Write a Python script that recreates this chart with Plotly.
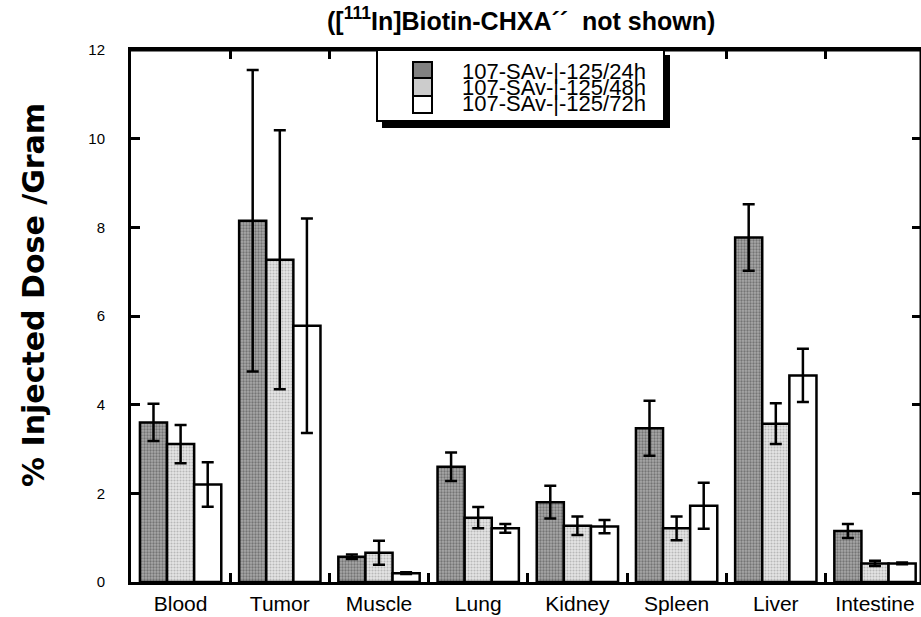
import plotly.graph_objects as go

organs = ["Blood", "Tumor", "Muscle", "Lung", "Kidney", "Spleen", "Liver", "Intestine"]
series_names = ["107-SAv-|-125/24h", "107-SAv-|-125/48h", "107-SAv-|-125/72h"]

val_24h = [3.60, 8.15, 0.57, 2.60, 1.80, 3.47, 7.77, 1.15]
err_24h = [0.42, 3.40, 0.05, 0.32, 0.37, 0.62, 0.75, 0.16]
val_48h = [3.11, 7.27, 0.66, 1.45, 1.27, 1.21, 3.57, 0.42]
err_48h = [0.43, 2.92, 0.27, 0.24, 0.21, 0.27, 0.46, 0.06]
val_72h = [2.20, 5.78, 0.20, 1.21, 1.25, 1.72, 4.66, 0.42]
err_72h = [0.50, 2.42, 0.02, 0.10, 0.15, 0.52, 0.60, 0.02]

y_ticks = [0, 2, 4, 6, 8, 10, 12]

W, H = 921, 617
L, R, T, B = 131, 0, 50, 35
PW, PH = W - L - R, H - T - B

def px(x):
    return (x - L) / PW

def py(y):
    return (H - B - y) / PH

styles = [
    dict(pattern=dict(shape=".", bgcolor="#a8a8a8", fgcolor="#404040", size=3, solidity=0.45)),
    dict(pattern=dict(shape=".", bgcolor="#e6e6e6", fgcolor="#8a8a8a", size=3, solidity=0.4)),
    dict(color="white"),
]

fig = go.Figure()
for name, vals, errs, st in zip(series_names, [val_24h, val_48h, val_72h],
                                [err_24h, err_48h, err_72h], styles):
    marker = dict(line=dict(color="black", width=2.5))
    marker.update(st)
    fig.add_trace(go.Bar(
        x=organs, y=vals, name=name, marker=marker, showlegend=False,
        error_y=dict(type="data", array=errs, visible=True, color="black",
                     thickness=2.5, width=6),
    ))

fig.update_layout(
    width=W, height=H,
    margin=dict(l=L, r=R, t=T, b=B, autoexpand=False),
    paper_bgcolor="white", plot_bgcolor="white",
    barmode="group", bargap=0.18, bargroupgap=0,
    font=dict(family="Liberation Sans, Arial, sans-serif", color="black"),
)
fig.update_xaxes(
    range=[-0.5, -0.5 + PW / 99.2], automargin=False,
    showline=True, linecolor="black", linewidth=3, mirror="ticks",
    ticks="inside", tickson="boundaries", ticklen=9, tickwidth=2.5, tickcolor="black",
    tickfont=dict(size=21, family="Liberation Sans, Arial, sans-serif"),
    ticklabelstandoff=1, showgrid=False, zeroline=False,
)
fig.update_yaxes(
    range=[0, 12], tickvals=y_ticks, ticktext=[str(v) for v in y_ticks], automargin=False,
    showline=True, linecolor="black", linewidth=3, mirror="ticks",
    ticks="inside", ticklen=9, tickwidth=2.5, tickcolor="black",
    tickfont=dict(size=15, family="Liberation Sans, Arial, sans-serif"),
    ticklabelstandoff=20, showgrid=False, zeroline=False,
)

# Plot frame, then legend box with drop shadow
shapes = [
    dict(type="line", xref="paper", yref="paper", x0=0, x1=1, y0=1, y1=1,
         line=dict(color="black", width=3), layer="above"),
    dict(type="line", xref="paper", yref="paper", x0=1, x1=1, y0=0, y1=1,
         line=dict(color="black", width=3), layer="above"),
    dict(type="rect", xref="paper", yref="paper", x0=px(382), x1=px(670), y0=py(128), y1=py(55),
         fillcolor="black", line=dict(width=0), layer="above"),
    dict(type="rect", xref="paper", yref="paper", x0=px(377), x1=px(664), y0=py(121), y1=py(50),
         fillcolor="white", line=dict(color="black", width=2), layer="above"),
]
sw_tops = [62, 78, 96]
sw_bots = [78, 96, 113]
sw_fill = ["#808080", "#cccccc", "white"]
for t, b, c in zip(sw_tops, sw_bots, sw_fill):
    shapes.append(dict(type="rect", xref="paper", yref="paper", x0=px(413), x1=px(432),
                       y0=py(b), y1=py(t), fillcolor=c, line=dict(color="black", width=2),
                       layer="above"))
fig.update_layout(shapes=shapes)

annotations = []
for name, yc in zip(series_names, [71, 87.5, 104]):
    annotations.append(dict(text=name, xref="paper", yref="paper", x=px(460), y=py(yc),
                            xanchor="left", yanchor="middle", showarrow=False,
                            font=dict(size=22, family="Liberation Sans, Arial, sans-serif")))
annotations.append(dict(
    text="<b>([<sup>111</sup>In]Biotin-CHXA´´  not shown)</b>", xref="paper", yref="paper",
    x=px(521), y=py(19), xanchor="center", yanchor="middle", showarrow=False,
    font=dict(size=25, family="Liberation Sans, Arial, sans-serif")))
annotations.append(dict(
    text="<b>% Injected Dose /Gram</b>", xref="paper", yref="paper",
    x=px(33), y=py(295), xanchor="center", yanchor="middle", showarrow=False, textangle=-90,
    font=dict(size=30, family="DejaVu Sans, sans-serif")))
fig.update_layout(annotations=annotations)

fig.write_html(
    "out.html",
    config={"displayModeBar": False},
    post_script="document.body.style.margin='0';document.body.style.padding='0';"
                "document.body.style.overflow='hidden';",
)
